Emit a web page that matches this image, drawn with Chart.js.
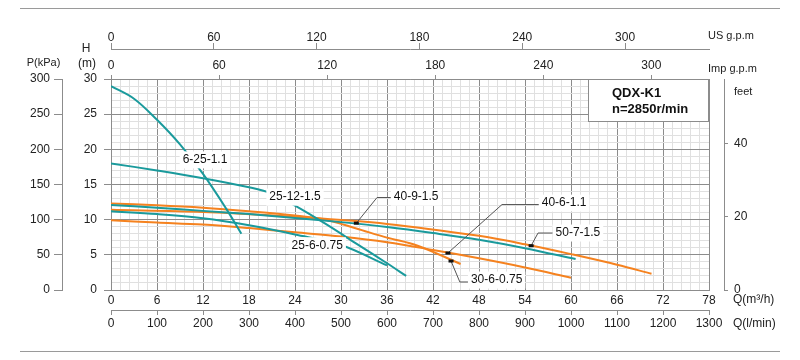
<!DOCTYPE html>
<html>
<head>
<meta charset="utf-8">
<script src="https://cdn.jsdelivr.net/npm/chart.js@4.4.0/dist/chart.umd.min.js"></script>
<style>
body { margin: 0; background: #fff; }
#wrap { width: 800px; height: 360px; }
</style>
</head>
<body>
<div id="wrap"><canvas id="pump" width="800" height="360"></canvas></div>
<script>
// axis ticks
const qTicks = [0, 6, 12, 18, 24, 30, 36, 42, 48, 54, 60, 66, 72, 78];
const lminTicks = [0, 100, 200, 300, 400, 500, 600, 700, 800, 900, 1000, 1100, 1200, 1300];
const impTicks = [0, 60, 120, 180, 240, 300];
const usTicks = [0, 60, 120, 180, 240, 300];
const hTicks = [0, 5, 10, 15, 20, 25, 30];
const pTicks = [0, 50, 100, 150, 200, 250, 300];
const feetTicks = [0, 20, 40];

// pump curves, Q in m3/h, H in m
const q_6_25 = [0, 3, 6, 9, 12, 15, 17];
const h_6_25 = [29, 27.2, 24.2, 20.7, 16.5, 11.6, 8.0];
const q_25_12 = [0, 6, 12, 18, 21, 24, 28, 32, 36, 38.5];
const h_25_12 = [18, 17.0, 15.9, 14.6, 13.7, 12.0, 9.4, 6.6, 3.8, 2.0];
const q_25_6 = [0, 6, 12, 18, 24, 30, 36];
const h_25_6 = [11.2, 10.8, 10.2, 9.2, 7.9, 6.4, 3.5];
const q_40_9 = [0, 6, 12, 18, 24, 30, 36, 42, 48, 54, 60.6];
const h_40_9 = [12.1, 11.7, 11.25, 10.8, 10.25, 9.65, 8.95, 8.1, 7.15, 5.95, 4.4];
const q_50_7 = [0, 12, 24, 36, 48, 54, 60, 66, 70.5];
const h_50_7 = [11.4, 11.1, 10.4, 9.4, 7.7, 6.5, 5.1, 3.6, 2.3];
const q_30_6 = [0, 6, 12, 18, 24, 28, 32, 36, 40, 45.6];
const h_30_6 = [12.3, 12.05, 11.7, 11.2, 10.6, 10.0, 8.75, 7.45, 6.3, 3.7];
const q_40_6 = [0, 6, 12, 18, 24, 30, 36, 42, 48, 54, 60];
const h_40_6 = [9.9, 9.6, 9.3, 8.8, 8.2, 7.6, 6.8, 5.7, 4.5, 3.2, 1.75];

const teal = '#1a9a9c';
const orange = '#f5821f';
const gridMajor = '#8c8c8c';
const gridMinor = '#e0e0e0';
const axisGrey = '#8c8c8c';
const FONT = '"Liberation Sans", Arial, sans-serif';

// labels on the curves (positions in Q/H units)
const notes = [
  { text: '6-25-1.1', at: [12.26, 18.5] },
  { text: '25-12-1.5', at: [24.0, 13.2] },
  { text: '25-6-0.75', at: [26.9, 6.3] },
  { text: '40-9-1.5', at: [39.8, 13.2], mark: [32, 9.5], elbow: [34.7, 13.15] },
  { text: '40-6-1.1', at: [59.1, 12.35], mark: [43.95, 5.26], elbow: [51.0, 12.15] },
  { text: '30-6-0.75', at: [50.3, 1.42], mark: [44.35, 4.12], elbow: [45.5, 1.14] },
  { text: '50-7-1.5', at: [60.9, 8.1], mark: [54.8, 6.3], elbow: [55.7, 8.1] }
];

function pts(qs, hs) {
  return qs.map((q, i) => ({ x: q, y: hs[i] }));
}

function withMinor(major, parts) {
  const out = [];
  for (let i = 0; i < major.length - 1; i++) {
    const a = major[i], b = major[i + 1];
    for (let j = 0; j < parts; j++) out.push(Math.round((a + (b - a) * j / parts) * 1000) / 1000);
  }
  out.push(major[major.length - 1]);
  return out;
}

function curve(data, color) {
  return {
    data: data, borderColor: color, borderWidth: 2, pointRadius: 0,
    fill: false, tension: 0.35
  };
}

const isMajor = (list, c) => c.tick && list.includes(c.tick.value);
const plain = v => String(v);

const extras = {
  id: 'extras',
  afterDraw(chart) {
    const { ctx, chartArea: ca } = chart;
    const x = chart.scales.x, y = chart.scales.y;
    ctx.save();

    // separator lines
    ctx.strokeStyle = '#9a9a9a';
    ctx.lineWidth = 1;
    ctx.beginPath();
    ctx.moveTo(20, 8.5); ctx.lineTo(780, 8.5);
    ctx.moveTo(20, 351.5); ctx.lineTo(780, 351.5);
    ctx.stroke();

    // curve labels
    ctx.font = '12px ' + FONT;
    ctx.textBaseline = 'middle';
    notes.forEach(n => {
      const w = ctx.measureText(n.text).width;
      const cx = x.getPixelForValue(n.at[0]);
      const cy = y.getPixelForValue(n.at[1]);
      const left = cx - w / 2 - 3;
      ctx.fillStyle = '#fff';
      ctx.fillRect(left, cy - 8.5, w + 6, 17);
      if (n.mark) {
        const mx = x.getPixelForValue(n.mark[0]), my = y.getPixelForValue(n.mark[1]);
        const ex = x.getPixelForValue(n.elbow[0]), ey = y.getPixelForValue(n.elbow[1]);
        ctx.strokeStyle = '#555';
        ctx.lineWidth = 1;
        ctx.beginPath();
        ctx.moveTo(mx, my); ctx.lineTo(ex, ey); ctx.lineTo(left, ey);
        ctx.stroke();
        ctx.fillStyle = '#111';
        ctx.fillRect(mx - 2.5, my - 1.5, 5, 3);
      }
      ctx.fillStyle = '#111';
      ctx.textAlign = 'center';
      ctx.fillText(n.text, cx, cy);
    });

    // model box
    const bw = 121, bh = 43;
    ctx.fillStyle = '#fff';
    ctx.fillRect(ca.right - bw, ca.top, bw, bh);
    ctx.strokeStyle = axisGrey;
    ctx.strokeRect(ca.right - bw + 0.5, ca.top + 0.5, bw - 1, bh - 1);
    ctx.fillStyle = '#111';
    ctx.textAlign = 'left';
    ctx.font = 'bold 13px ' + FONT;
    ctx.fillText('QDX-K1', ca.right - bw + 24, ca.top + 14);
    ctx.fillText('n=2850r/min', ca.right - bw + 24, ca.top + 30);

    // unit titles
    ctx.fillStyle = '#222';
    ctx.font = '11px ' + FONT;
    ctx.textAlign = 'left';
    ctx.fillText('US g.p.m', ca.right - 1, 36);
    ctx.fillText('Imp g.p.m', ca.right - 1, 69);
    ctx.fillText('feet', 734, 92);
    ctx.font = '12px ' + FONT;
    ctx.fillText('Q(m³/h)', 733, 300);
    ctx.fillText('Q(l/min)', 733, 324);
    ctx.textAlign = 'center';
    ctx.font = '11px ' + FONT;
    ctx.fillText('P(kPa)', 43.5, 63);
    ctx.font = '12px ' + FONT;
    ctx.fillText('H', 86, 49);
    ctx.fillText('(m)', 87, 64);
    ctx.restore();
  }
};

Chart.defaults.font.family = FONT;
Chart.defaults.font.size = 12;
Chart.defaults.color = '#222';

new Chart(document.getElementById('pump'), {
  type: 'line',
  data: {
    datasets: [
      curve(pts(q_6_25, h_6_25), teal),
      curve(pts(q_25_12, h_25_12), teal),
      curve(pts(q_25_6, h_25_6), teal),
      curve(pts(q_40_9, h_40_9), teal),
      curve(pts(q_40_6, h_40_6), orange),
      curve(pts(q_30_6, h_30_6), orange),
      curve(pts(q_50_7, h_50_7), orange)
    ]
  },
  options: {
    responsive: false,
    animation: false,
    devicePixelRatio: 1,
    layout: { padding: { top: 29, bottom: 30, left: 0, right: 0 } },
    plugins: { legend: { display: false }, tooltip: { enabled: false } },
    scales: {
      x: {
        type: 'linear', position: 'bottom', min: 0, max: 78, weight: 0,
        afterBuildTicks: s => { s.ticks = withMinor(qTicks, 5).map(v => ({ value: v })); },
        afterFit: s => { s.height = 20; },
        grid: { color: c => isMajor(qTicks, c) ? gridMajor : gridMinor, drawTicks: false },
        border: { display: true, color: axisGrey },
        ticks: { autoSkip: false, maxRotation: 0, minRotation: 0, padding: 3,
          callback: v => qTicks.includes(v) ? String(v) : '' }
      },
      lmin: {
        type: 'linear', position: 'bottom', min: 0, max: 1300, weight: 1,
        afterBuildTicks: s => { s.ticks = lminTicks.map(v => ({ value: v })); },
        afterFit: s => { s.height = 20; },
        grid: { drawOnChartArea: false, color: axisGrey, tickLength: 5 },
        border: { display: true, color: axisGrey },
        ticks: { autoSkip: false, maxRotation: 0, padding: 1.3, callback: plain }
      },
      imp: {
        type: 'linear', position: 'top', min: 0, max: 332, weight: 0,
        afterBuildTicks: s => { s.ticks = impTicks.map(v => ({ value: v })); },
        afterFit: s => { s.height = 30; },
        grid: { drawOnChartArea: false, color: axisGrey, tickLength: 4 },
        border: { display: true, color: axisGrey },
        ticks: { autoSkip: false, maxRotation: 0, padding: 2.3, callback: plain }
      },
      us: {
        type: 'linear', position: 'top', min: 0, max: 349, weight: 1,
        afterBuildTicks: s => { s.ticks = usTicks.map(v => ({ value: v })); },
        afterFit: s => { s.height = 20; },
        grid: { drawOnChartArea: false, color: axisGrey, tickLength: 6 },
        border: { display: true, color: axisGrey },
        ticks: { autoSkip: false, maxRotation: 0, padding: -2, callback: plain }
      },
      y: {
        type: 'linear', position: 'left', min: 0, max: 30, weight: 0,
        afterBuildTicks: s => { s.ticks = withMinor(hTicks, 5).map(v => ({ value: v })); },
        afterFit: s => { s.width = 49; },
        grid: {
          color: c => isMajor(hTicks, c) ? gridMajor : gridMinor,
          tickColor: c => isMajor(hTicks, c) ? gridMajor : 'rgba(0,0,0,0)',
          tickLength: 7
        },
        border: { display: true, color: axisGrey },
        ticks: { autoSkip: false, padding: 7, callback: v => hTicks.includes(v) ? String(v) : '' }
      },
      p: {
        type: 'linear', position: 'left', min: 0, max: 300, weight: 1,
        afterBuildTicks: s => { s.ticks = pTicks.map(v => ({ value: v })); },
        afterFit: s => { s.width = 62; },
        grid: { drawOnChartArea: false, color: axisGrey, tickLength: 8 },
        border: { display: true, color: axisGrey },
        ticks: { autoSkip: false, padding: 4, callback: plain }
      },
      gap: {
        type: 'linear', position: 'right', min: 0, max: 1, weight: 0,
        afterFit: s => { s.width = 15; },
        grid: { drawOnChartArea: false, drawTicks: false },
        border: { display: true, color: axisGrey },
        ticks: { display: false }
      },
      feet: {
        type: 'linear', position: 'right', min: 0, max: 57.8, weight: 1,
        afterBuildTicks: s => { s.ticks = feetTicks.map(v => ({ value: v })); },
        afterFit: s => { s.width = 76; },
        grid: { drawOnChartArea: false, color: axisGrey, tickLength: 4 },
        border: { display: true, color: axisGrey },
        ticks: { autoSkip: false, padding: 6, callback: plain }
      }
    }
  },
  plugins: [extras]
});
</script>
</body>
</html>
